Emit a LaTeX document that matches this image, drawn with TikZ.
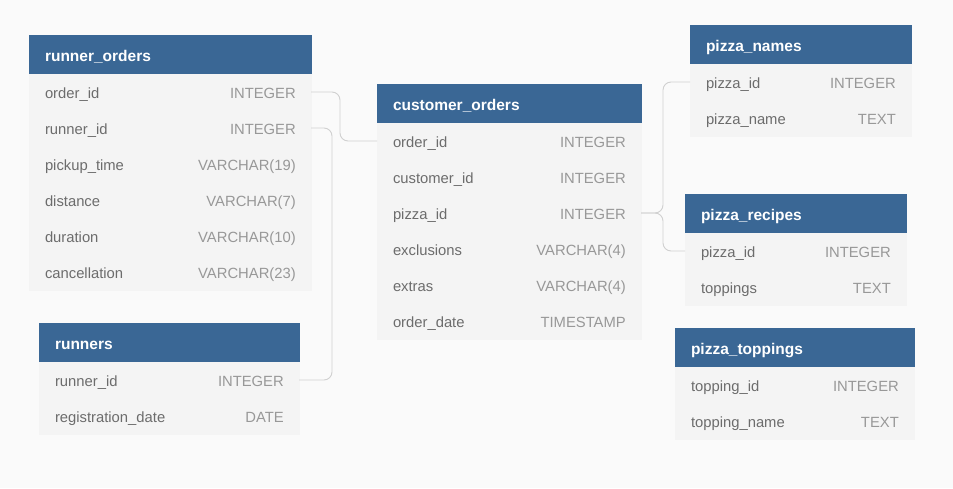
\documentclass[tikz,border=0pt]{standalone}
\usepackage{fontspec}
\setmainfont{Liberation Sans}
\usetikzlibrary{positioning}
\definecolor{headblue}{RGB}{58,103,149}
\definecolor{bodygray}{RGB}{244,244,244}
\definecolor{pagegray}{RGB}{250,250,250}
\definecolor{namegray}{RGB}{108,108,108}
\definecolor{typegray}{RGB}{152,152,152}
\definecolor{linkgray}{RGB}{208,208,208}
\tikzset{
    head/.style={rectangle, fill=headblue, draw=headblue, line width=0.5pt, text=white,
        inner xsep=16pt, inner ysep=0pt, outer sep=0pt,
        minimum height=39pt, align=left, font=\fontsize{15.5}{18}\selectfont\bfseries,
        text height=17pt, text depth=3pt},
    rowbox/.style={rectangle, fill=bodygray, draw=bodygray, line width=0.5pt, text=namegray,
        inner xsep=16pt, inner ysep=0pt, outer sep=0pt,
        minimum height=36pt, align=left, font=\fontsize{14.8}{17}\selectfont,
        text height=15pt, text depth=3pt},
    ftype/.style={anchor=east, xshift=-15pt, inner sep=0pt, text=typegray,
        font=\fontsize{14.8}{17}\selectfont, text height=15pt, text depth=3pt},
    coltype/.style={label={[ftype]east:#1}},
    link/.style={draw=linkgray, line width=0.9pt, rounded corners=8pt}
}
\begin{document}
\begin{tikzpicture}[x=1pt, y=-1pt, node distance=0pt]
    \fill[pagegray] (0,0) rectangle (953,488);
    \useasboundingbox (0,0) rectangle (953,488);
    % runner_orders
    \node[head, text width=250pt, anchor=north west] (ro) at (29,35) {runner\_orders};
    \node[rowbox, text width=250pt, below=of ro, coltype=INTEGER] (ro1) {order\_id};
    \node[rowbox, text width=250pt, below=of ro1, coltype=INTEGER] (ro2) {runner\_id};
    \node[rowbox, text width=250pt, below=of ro2, coltype={VARCHAR(19)}] (ro3) {pickup\_time};
    \node[rowbox, text width=250pt, below=of ro3, coltype={VARCHAR(7)}] (ro4) {distance};
    \node[rowbox, text width=250pt, below=of ro4, coltype={VARCHAR(10)}] (ro5) {duration};
    \node[rowbox, text width=250pt, below=of ro5, coltype={VARCHAR(23)}] (ro6) {cancellation};
    % runners
    \node[head, text width=228pt, anchor=north west] (rn) at (39,323) {runners};
    \node[rowbox, text width=228pt, below=of rn, coltype=INTEGER] (rn1) {runner\_id};
    \node[rowbox, text width=228pt, below=of rn1, coltype=DATE] (rn2) {registration\_date};
    % customer_orders
    \node[head, text width=232pt, anchor=north west] (co) at (377,84) {customer\_orders};
    \node[rowbox, text width=232pt, below=of co, coltype=INTEGER] (co1) {order\_id};
    \node[rowbox, text width=232pt, below=of co1, coltype=INTEGER] (co2) {customer\_id};
    \node[rowbox, text width=232pt, below=of co2, coltype=INTEGER] (co3) {pizza\_id};
    \node[rowbox, text width=232pt, below=of co3, coltype={VARCHAR(4)}] (co4) {exclusions};
    \node[rowbox, text width=232pt, below=of co4, coltype={VARCHAR(4)}] (co5) {extras};
    \node[rowbox, text width=232pt, below=of co5, coltype=TIMESTAMP] (co6) {order\_date};
    % pizza_names
    \node[head, text width=189pt, anchor=north west] (pn) at (690,25) {pizza\_names};
    \node[rowbox, text width=189pt, below=of pn, coltype=INTEGER] (pn1) {pizza\_id};
    \node[rowbox, text width=189pt, below=of pn1, coltype=TEXT] (pn2) {pizza\_name};
    % pizza_recipes
    \node[head, text width=189pt, anchor=north west] (pr) at (685,194) {pizza\_recipes};
    \node[rowbox, text width=189pt, below=of pr, coltype=INTEGER] (pr1) {pizza\_id};
    \node[rowbox, text width=189pt, below=of pr1, coltype=TEXT] (pr2) {toppings};
    % pizza_toppings
    \node[head, text width=207pt, anchor=north west] (pt) at (675,328) {pizza\_toppings};
    \node[rowbox, text width=207pt, below=of pt, coltype=INTEGER] (pt1) {topping\_id};
    \node[rowbox, text width=207pt, below=of pt1, coltype=TEXT] (pt2) {topping\_name};
    % links
    \draw[link] (ro1.east) -- ++(29,0) |- (co1.west);
    \draw[link] (ro2.east) -- ++(21,0) |- (rn1.east);
    \draw[link] (co3.east) -- ++(22,0) |- (pn1.west);
    \draw[link] (co3.east) -- ++(22,0) |- (pr1.west);
\end{tikzpicture}
\end{document}
